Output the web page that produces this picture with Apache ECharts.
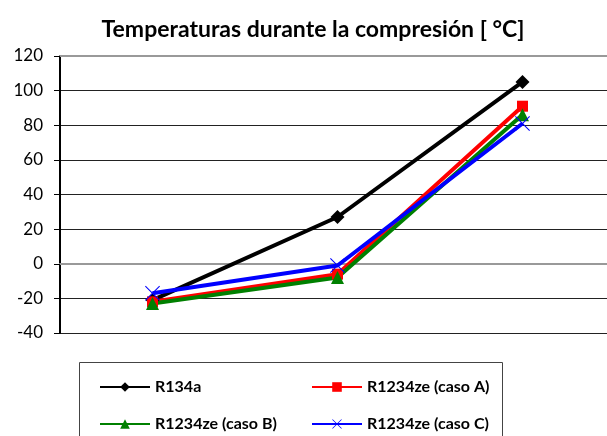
<!DOCTYPE html>
<html lang="es">
<head>
    <meta charset="UTF-8">
    <title>Temperaturas durante la compresión</title>
    <script type="text/javascript" src="https://cdn.jsdelivr.net/npm/echarts@6/dist/echarts.min.js"></script>
</head>
<body style="margin:0">
    <div id="main" style="width: 607px; height: 436px"></div>
    <script type="text/javascript">
        // puntos de la compresion (sin etiqueta en el eje)
        var puntos = ['1', '2', '3'];
        var yTicks = [-40, 120, 20];   // min, max, intervalo

        var r134a = [-21, 27, 105];
        var casoA = [-22, -6, 91];
        var casoB = [-23, -8, 86];
        var casoC = [-17, -1, 81];

        var nombres = ['R134a', 'R1234ze (caso A)', 'R1234ze (caso B)', 'R1234ze (caso C)'];
        var colores = ['#000000', '#ff0000', '#008000', '#0000ff'];

        var cruz = 'path://M0,0.7L0.7,0L7,6.3L13.3,0L14,0.7L7.7,7L14,13.3L13.3,14L7,7.7L0.7,14L0,13.3L6.3,7Z';
        var simbolos = ['diamond', 'rect', 'triangle', cruz];
        var tamanos = [14, 11, 13, 15];
        var datos = [r134a, casoA, casoB, casoC];

        var fuente = 'Lato, "Open Sans", sans-serif';

        var series = datos.map(function (d, i) {
            return {
                name: nombres[i],
                type: 'line',
                data: d,
                symbol: simbolos[i],
                symbolSize: tamanos[i],
                showAllSymbol: true,
                itemStyle: { color: colores[i] },
                lineStyle: { color: colores[i], width: 4 },
                animation: false
            };
        });

        // leyenda 2x2, cada elemento por separado
        var posLeyenda = [[99, 379], [311, 379], [99, 416], [311, 416]];
        var leyendas = nombres.map(function (n, i) {
            return {
                data: [n],
                left: posLeyenda[i][0],
                top: posLeyenda[i][1],
                padding: 0,
                itemWidth: 50,
                itemHeight: 12,
                textStyle: { fontFamily: fuente, fontWeight: 'bold', fontSize: 16, color: '#000' }
            };
        });

        var myChart = echarts.init(document.getElementById('main'));
        myChart.setOption({
            backgroundColor: '#fff',
            title: {
                text: 'Temperaturas durante la compresión [ °C]',
                left: 308,
                textAlign: 'center',
                top: 13,
                textStyle: { fontFamily: fuente, fontWeight: 'bold', fontSize: 23, color: '#000' }
            },
            legend: leyendas,
            graphic: [{
                type: 'rect',
                shape: { x: 79.5, y: 362.5, width: 423, height: 90 },
                style: { fill: 'none', stroke: '#444', lineWidth: 1 },
                z: 0
            }],
            grid: { left: 60, top: 56, width: 555, height: 277, outerBoundsMode: 'none' },
            xAxis: [{
                type: 'category',
                data: puntos,
                axisLine: { lineStyle: { color: '#999', width: 2 } },
                axisTick: { show: false },
                axisLabel: { show: false }
            }, {
                type: 'category',
                data: puntos,
                position: 'top',
                axisLine: { lineStyle: { color: '#999', width: 2 } },
                axisTick: { show: false },
                axisLabel: { show: false }
            }],
            yAxis: {
                type: 'value',
                min: yTicks[0],
                max: yTicks[1],
                interval: yTicks[2],
                axisLine: { show: true, lineStyle: { color: '#000', width: 2 } },
                axisTick: { show: true, length: 6, lineStyle: { color: '#000' } },
                axisLabel: { margin: 17, fontFamily: fuente, fontSize: 17, color: '#000' },
                splitLine: { lineStyle: { color: '#222', width: 1 } }
            },
            series: series
        });
    </script>
</body>
</html>
